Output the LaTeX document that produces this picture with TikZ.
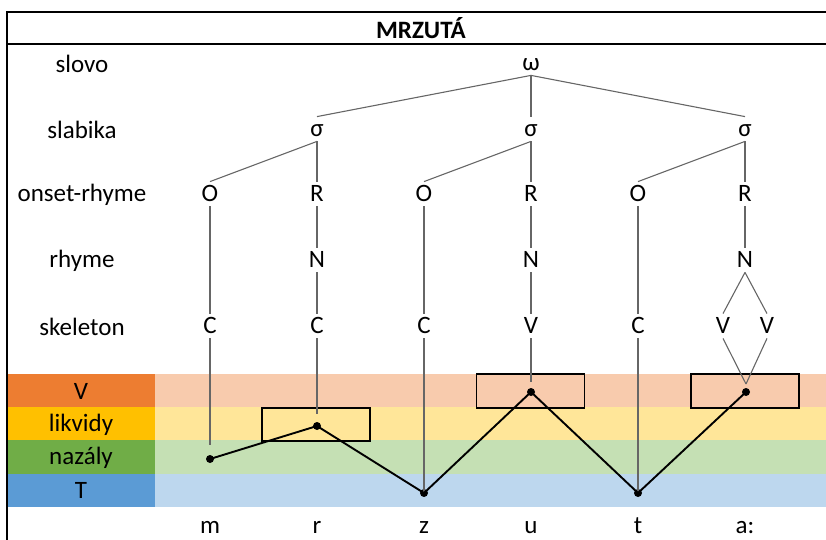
\documentclass[tikz,border=0pt]{standalone}
\usepackage{fontspec}
\setmainfont{Carlito}
\definecolor{vdark}{HTML}{ED7D31}
\definecolor{vlight}{HTML}{F8CBAD}
\definecolor{ldark}{HTML}{FFC000}
\definecolor{llight}{HTML}{FFE699}
\definecolor{ndark}{HTML}{70AD47}
\definecolor{nlight}{HTML}{C5E0B4}
\definecolor{tdark}{HTML}{5B9BD5}
\definecolor{tlight}{HTML}{BDD7EE}

\begin{document}
\begin{tikzpicture}[x=0.5pt,y=-0.5pt,
	lbl/.style={font=\fontsize{12.5}{15}\selectfont},
	tn/.style={lbl,inner sep=0pt,text height=8pt,text depth=0pt,minimum height=12pt},
	branch/.style={draw=black!60,line width=0.55pt},
	dot/.style={circle,fill=black,inner sep=0pt,minimum size=4pt},
	hl/.style={draw=black,line width=0.9pt,inner sep=0pt,minimum width=54pt,minimum height=16.8pt},
	contour/.style={black,line width=0.95pt}]
\useasboundingbox (0,0) rectangle (826,540);
\foreach \name/\dk/\lt [count=\i] in {V/vdark/vlight,likvidy/ldark/llight,nazály/ndark/nlight,T/tdark/tlight}{
	\fill[\lt] (155,340.8+33.2*\i) rectangle (826,374+33.2*\i);
	\fill[\dk] (8,340.8+33.2*\i) rectangle (155,374+33.2*\i);
	\node[lbl] (band\i) at (81,358+33.2*\i) {\name};
}
\draw[line width=1pt] (7,540) -- (7,12) -- (826,12);
\draw[line width=0.7pt] (7,44) -- (826,44);
\node[font=\bfseries\fontsize{12.5}{15}\selectfont] (title) at (421,28) {MRZUTÁ};
\foreach \t/\y [count=\i] in {slovo/64,slabika/130,onset-rhyme/195,rhyme/261,skeleton/327}
	\node[lbl] (row\i) at (82,\y) {\t};
\node[tn] (w) at (531,63) {ω};
\foreach \x [count=\i] in {317,531,745}{
	\node[tn] (s\i) at (\x,129) {σ};
	\node[tn] (o\i) at (\x-107,194) {O};
	\node[tn] (r\i) at (\x,194) {R};
	\node[tn] (n\i) at (\x,260) {N};
	\draw[branch] (w.south) -- (s\i.north);
	\draw[branch] (s\i.south) -- (o\i.north);
	\draw[branch] (s\i.south) -- (r\i.north);
	\draw[branch] (r\i.south) -- (n\i.north);
}
\foreach \t/\x [count=\i] in {C/210,C/317,C/424,V/531,C/638,V/723,V/767}
	\node[tn] (k\i) at (\x,326) {\t};
\draw[branch] (o1.south) -- (k1.north);
\draw[branch] (n1.south) -- (k2.north);
\draw[branch] (o2.south) -- (k3.north);
\draw[branch] (n2.south) -- (k4.north);
\draw[branch] (o3.south) -- (k5.north);
\draw[branch] (n3.south) -- (k6.north);
\draw[branch] (n3.south) -- (k7.north);
\node[hl,fill=llight] (box1) at (316,424.5) {};
\node[hl,fill=vlight] (box2) at (530.5,391) {};
\node[hl,fill=vlight] (box3) at (745,391) {};
\node[dot] (d1) at (210,459) {};
\node[dot] (d2) at (317,426) {};
\node[dot] (d3) at (424,493) {};
\node[dot] (d4) at (531,392) {};
\node[dot] (d5) at (638,493) {};
\node[dot] (d6) at (746,392) {};
\coordinate (vv) at (746,384);
\draw[branch,shorten >=5pt] (k1.south) -- (d1.north);
\draw[branch,shorten >=3.7pt] (k2.south) -- (d2.north);
\draw[branch] (k3.south) -- (d3.center);
\draw[branch,shorten >=2.7pt] (k4.south) -- (d4.north);
\draw[branch] (k5.south) -- (d5.center);
\draw[branch] (k6.south) -- (vv);
\draw[branch] (k7.south) -- (vv);
\draw[contour] (d1.center) -- (d2.center) -- (d3.center) -- (d4.center) -- (d5.center) -- (d6.center);
\foreach \t/\x [count=\i] in {m/210,r/317,z/424,u/531,t/638,a:/745}
	\node[lbl,anchor=base] (seg\i) at (\x,533) {\t};
\end{tikzpicture}
\end{document}
